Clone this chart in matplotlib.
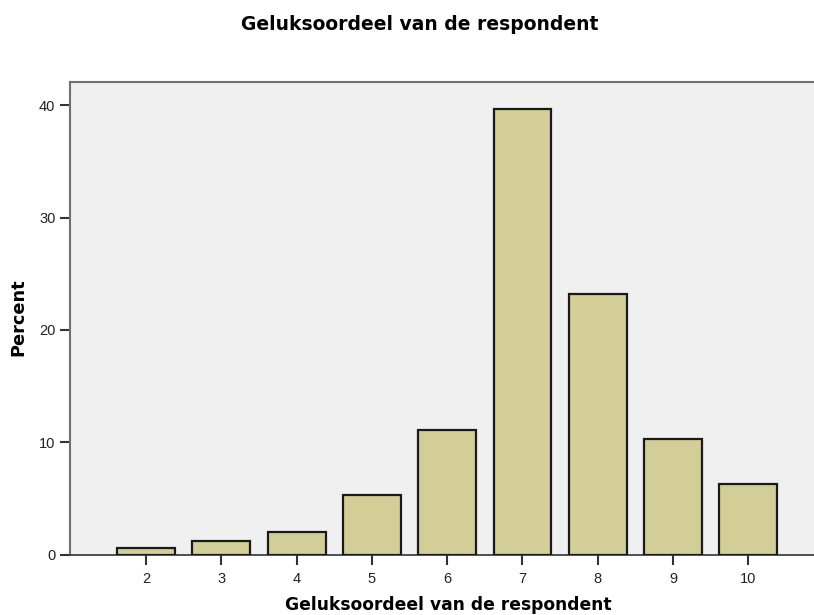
import matplotlib
matplotlib.use("Agg")
import matplotlib.pyplot as plt

categories = [2, 3, 4, 5, 6, 7, 8, 9, 10]
percent = [0.6, 1.17, 2.03, 5.3, 11.09, 39.67, 23.2, 10.26, 6.28]
yticks = [0, 10, 20, 30, 40]
title = "Geluksoordeel van de respondent"
xlabel = "Geluksoordeel van de respondent"
ylabel = "Percent"

plt.rcParams['font.family'] = ['Liberation Sans', 'DejaVu Sans']

W, H = 814, 615
fig = plt.figure(figsize=(W/100, H/100), dpi=100)
ax = fig.add_axes([70/W, (H-554.5)/H, 1 - 70/W, (554.5-82)/H])
ax.set_facecolor('#F0F0F0')
ax.bar(categories, percent, width=0.77, color='#D3CE97', edgecolor='#1a1a1a', linewidth=1.6, zorder=3)
ax.set_xlim(0.991, 10.871)
ax.set_ylim(0, 42.07)
ax.set_xticks(categories)
ax.set_xticklabels([str(c) for c in categories])
ax.set_yticks(yticks)
ax.tick_params(axis='both', labelsize=10.5, colors='#333333', length=7.5, width=1.5, labelcolor='#222222')
ax.tick_params(axis='x', pad=5)
ax.tick_params(axis='y', pad=3)
for s in ['left', 'top']:
    ax.spines[s].set_color('#707070')
    ax.spines[s].set_linewidth(1.5)
ax.spines['bottom'].set_color('#333333')
ax.spines['bottom'].set_linewidth(1.2)
ax.spines['right'].set_visible(False)

bold = dict(family=['DejaVu Sans'], fontweight='bold')
fig.text(419.5/W, 1 - 24/H, title, fontsize=13.5, ha='center', va='center', **bold)
fig.text(448/W, 1 - 605/H, xlabel, fontsize=12.3, ha='center', va='center', **bold)
fig.text(18/W, 1 - 317/H, ylabel, fontsize=12.8, ha='center', va='center', rotation=90, **bold)
fig.savefig('out.png', dpi=100)
